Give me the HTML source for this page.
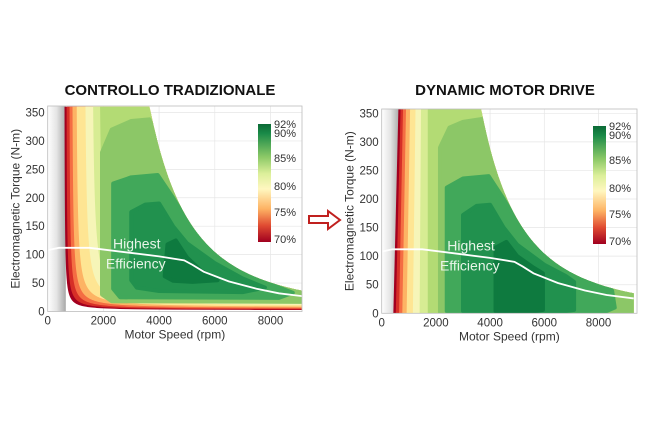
<!DOCTYPE html>
<html><head><meta charset="utf-8"><style>
html,body{margin:0;padding:0;background:#fff;}
svg{display:block;font-family:"Liberation Sans",sans-serif;}
</style></head><body>
<svg id="s" width="666" height="444" viewBox="0 0 666 444" xmlns="http://www.w3.org/2000/svg">
<defs>
<linearGradient id="grey" x1="0" x2="1" y1="0" y2="0">
<stop offset="0" stop-color="#ffffff"/><stop offset="0.5" stop-color="#e4e4e4"/><stop offset="1" stop-color="#a8a8a8"/></linearGradient>
<linearGradient id="cb" x1="0" x2="0" y1="0" y2="1">
<stop offset="0" stop-color="#0b6a36"/><stop offset="0.08" stop-color="#1a8a48"/><stop offset="0.28" stop-color="#8cc967"/><stop offset="0.42" stop-color="#dcef9a"/><stop offset="0.55" stop-color="#fff7c0"/><stop offset="0.72" stop-color="#fdb263"/><stop offset="0.86" stop-color="#e04b32"/><stop offset="1" stop-color="#a0001f"/></linearGradient>
</defs>
<text x="170" y="95" text-anchor="middle" font-size="15" font-weight="bold" fill="#111">CONTROLLO TRADIZIONALE</text>
<text x="505" y="95" text-anchor="middle" font-size="15" font-weight="bold" fill="#111">DYNAMIC MOTOR DRIVE</text>
<polygon points="309,216 328,216 328,211 340,220 328,229 328,223 309,223" fill="#fff" stroke="#c0201e" stroke-width="2"/>
<g id="p1"></g><g id="p2"></g>
</svg>
<script>
const NS="http://www.w3.org/2000/svg";
function el(p,t,a,txt){const e=document.createElementNS(NS,t);for(const k in a)e.setAttribute(k,a[k]);if(txt!==undefined)e.textContent=txt;p.appendChild(e);return e;}
function E(x){return x<3700?360:350*Math.pow(3700/x,2.5);}
function plot(g,o){
 const X=r=>o.x0+r*o.sx, Y=t=>o.y0-t*o.sy;
 const id=o.id;
 const defs=el(g,'defs',{});
 const cp=el(defs,'clipPath',{id:'c'+id});
 let env=[];for(let r=0;r<=9300;r+=50)env.push([X(r),Y(Math.min(E(r),362))]);
 env.push([X(9300),Y(0)],[X(0),Y(0)]);
 el(cp,'polygon',{points:env.map(p=>p.join(',')).join(' ')});
 const cp2=el(defs,'clipPath',{id:'b'+id});
 el(cp2,'rect',{x:o.x0,y:o.top,width:o.right-o.x0,height:o.y0-o.top});
 const root=el(g,'g',{'clip-path':'url(#b'+id+')'});
 el(root,'rect',{x:o.x0,y:o.top,width:o.right-o.x0,height:o.y0-o.top,fill:'#fff'});
 for(let r=2000;r<=8000;r+=2000)el(root,'line',{x1:X(r),x2:X(r),y1:o.top,y2:o.y0,stroke:'#e6e6e6','stroke-width':0.7});
 for(let t=50;t<=350;t+=50)el(root,'line',{x1:o.x0,x2:o.right,y1:Y(t),y2:Y(t),stroke:'#e6e6e6','stroke-width':0.7});
 el(root,'rect',{x:X(0),y:o.top,width:X(650)-X(0),height:o.y0-o.top,fill:'url(#grey)'});
 const cg=el(root,'g',{'clip-path':'url(#c'+id+')'});
 o.bands.forEach(b=>{
  let pts=[];
  if(b.v){
   pts=[[X(b.top),Y(365)],[X(b.bot),Y(0)],[X(9400),Y(0)],[X(9400),Y(365)]];
  } else {
   for(let t=365;t>b.c;t-=0.25){const x=b.a+b.k/(t-b.c);if(x>9400){pts.push([X(9400),Y(t)]);break;}pts.push([X(x),Y(t)]);}
   pts.push([X(9400),Y(b.c)],[X(9400),Y(365)]);
  }
  el(cg,'polygon',{points:pts.map(p=>p.join(',')).join(' '),fill:b.f});
 });
 o.cores.forEach(c=>{
  el(cg,'path',{d:'M'+c.p.map(p=>X(p[0])+','+Y(p[1])).join(' L')+'Z',fill:c.f,'stroke':c.f,'stroke-width':4,'stroke-linejoin':'round'});
 });
 const bl=[[0,108],[400,112],[1500,112],[3000,103],[4000,97],[4900,90],[5200,82],[5600,70],[6500,53],[7500,40],[8300,32],[9300,26]];
 el(root,'polyline',{points:bl.map(p=>X(p[0])+','+Y(p[1])).join(' '),fill:'none',stroke:'#fff','stroke-width':1.8});
 el(root,'text',{x:X(o.hx),y:o.y0-63,'font-size':14,fill:'#e8f5e8'},'Highest');
 el(root,'text',{x:X(o.ex),y:o.y0-43,'font-size':14,fill:'#e8f5e8'},'Efficiency');
 el(g,'rect',{x:o.x0,y:o.top,width:o.right-o.x0,height:o.y0-o.top,fill:'none',stroke:'#bdbdbd','stroke-width':0.8});
 for(let r=0;r<=8000;r+=2000)el(g,'text',{x:X(r),y:o.y0+13,'text-anchor':'middle','font-size':11.5,fill:'#333'},String(r));
 for(let t=0;t<=350;t+=50)el(g,'text',{x:o.x0-3,y:Y(t)+4,'text-anchor':'end','font-size':11.5,fill:'#333'},String(t));
 el(g,'text',{x:(o.x0+o.right)/2,y:o.y0+27,'text-anchor':'middle','font-size':12,fill:'#333'},'Motor Speed (rpm)');
 el(g,'text',{x:0,y:0,'text-anchor':'middle','font-size':12,fill:'#333',transform:`translate(${o.x0-28},${(o.top+o.y0)/2}) rotate(-90)`},'Electromagnetic Torque (N-m)');
 el(g,'rect',{x:o.cbx,y:o.cby,width:13,height:118,fill:'url(#cb)'});
 [['92%',4],['90%',13],['85%',38],['80%',66],['75%',92],['70%',119]].forEach(l=>el(g,'text',{x:o.cbx+16,y:o.cby+l[1],'font-size':11,fill:'#333'},l[0]));
}
const C={dr:'#a3001f',r:'#d62f27',o:'#f46d43',lo:'#fdb364',y:'#fee593',py:'#f6f5b8',yg:'#d7ec93',lg:'#b3db74',mg:'#8cc767',g2:'#41a85a',g3:'#21914e',g4:'#0e7a3f'};
plot(document.getElementById('p1'),{id:1,x0:47.7,sx:0.02785,y0:311.5,sy:0.5686,top:106,right:302,cbx:258,cby:124,hx:2345,ex:2090,
 bands:[{a:590,c:2,k:5000,f:C.dr},{a:660,c:3,k:6500,f:C.r},{a:760,c:4,k:8500,f:C.o},{a:860,c:5.5,k:11000,f:C.lo},{a:1000,c:7,k:15000,f:C.y},{a:1300,c:9,k:20000,f:C.py},{a:1560,c:11,k:25000,f:C.yg},{a:1800,c:13,k:28000,f:C.lg}],
 cores:[
 {f:C.mg,p:[[1950,30],[1950,280],[2300,320],[3000,335],[3650,338],[4200,280],[5000,190],[6000,120],[7000,80],[8000,55],[9300,38],[9300,17],[2300,18]]},
 {f:C.g2,p:[[2350,40],[2350,225],[3000,236],[3950,240],[4500,200],[5000,160],[6000,105],[7000,72],[8000,48],[8800,33],[8300,24],[2600,25]]},
 {f:C.g3,p:[[3000,55],[3000,175],[3500,188],[4000,190],[4500,150],[5000,120],[6000,85],[7000,58],[7800,42],[7000,34],[4000,36],[3200,42]]},
 {f:C.g4,p:[[4200,62],[4300,118],[4600,125],[5000,95],[5500,72],[6100,55],[5200,52],[4500,54]]}]});
plot(document.getElementById('p2'),{id:2,x0:381.7,sx:0.0271,y0:313.3,sy:0.5714,top:109,right:637,cbx:593,cby:126,hx:2420,ex:2150,
 bands:[{v:1,top:620,bot:430,f:C.dr},{v:1,top:700,bot:520,f:C.r},{v:1,top:790,bot:640,f:C.o},{v:1,top:900,bot:760,f:C.lo},{v:1,top:1050,bot:920,f:C.y},{v:1,top:1250,bot:1150,f:C.py},{v:1,top:1450,bot:1400,f:C.yg},{v:1,top:1700,bot:1700,f:C.lg}],
 cores:[
 {f:C.mg,p:[[2150,2],[2150,290],[2500,325],[3000,335],[3700,340],[4200,280],[5000,190],[6000,120],[7000,80],[8000,55],[9300,36],[9300,2]]},
 {f:C.g2,p:[[2400,4],[2400,220],[3000,236],[3950,240],[4500,200],[5000,160],[6000,105],[7000,72],[8000,52],[8500,40],[8600,10],[8300,4]]},
 {f:C.g3,p:[[3000,4],[3000,172],[3500,188],[4000,190],[4500,150],[5000,120],[6000,85],[6800,65],[7100,55],[7100,6],[6800,4]]},
 {f:C.g4,p:[[4200,4],[4200,115],[4600,125],[5000,100],[5600,80],[5950,70],[5950,6],[5700,4]]}]});
</script>
</body></html>
